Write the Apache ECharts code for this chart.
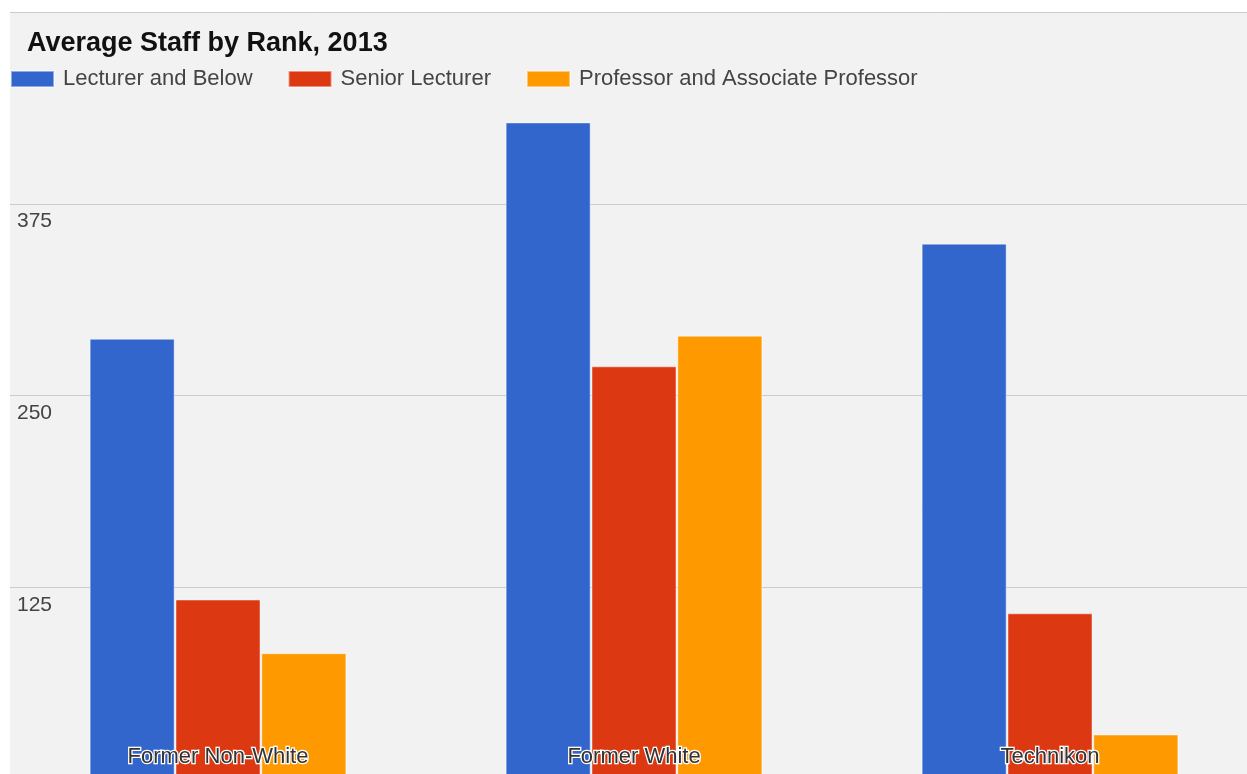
<!DOCTYPE html>
<html>
<head>
<meta charset="utf-8">
<script src="https://cdn.jsdelivr.net/npm/echarts@6/dist/echarts.min.js"></script>
<style>
html,body{margin:0;padding:0;background:#fff;}
#chart{width:1247px;height:774px;}
</style>
</head>
<body>
<div id="chart"></div>
<script>
var categories = ['Former Non-White', 'Former White', 'Technikon'];
var seriesNames = ['Lecturer and Below', 'Senior Lecturer', 'Professor and Associate Professor'];
var lecturerBelow = [287, 428, 349];
var seniorLecturer = [117, 269, 108];
var professorAssoc = [82, 289, 29];
var yTicks = [0, 125, 250, 375, 500];
var colors = ['#3366cc', '#dc3912', '#ff9900'];

var chart = echarts.init(document.getElementById('chart'));
var data = [lecturerBelow, seniorLecturer, professorAssoc];
var font = '"Liberation Sans", Arial, sans-serif';

chart.setOption({
  animation: false,
  backgroundColor: '#ffffff',
  title: {
    text: 'Average Staff by Rank, 2013',
    left: 27, top: 30, padding: 0,
    textStyle: { fontFamily: font, fontSize: 27, fontWeight: 'bold', color: '#111' }
  },
  legend: {
    left: 10, top: 68, padding: 0,
    itemWidth: 43, itemHeight: 16, itemGap: 35,
    icon: 'rect',
    textStyle: { fontFamily: font, fontSize: 22, color: '#444', padding: [0, 0, 0, 4] },
    data: seriesNames
  },
  grid: {
    left: 10, width: 1248, top: 12, height: 767,
    outerBoundsMode: 'none',
    show: true, backgroundColor: '#f2f2f2', borderWidth: 0,
    containLabel: false
  },
  xAxis: {
    type: 'category',
    data: categories,
    z: 10,
    axisLine: { show: false },
    axisTick: { show: false },
    axisLabel: {
      inside: true, margin: 11,
      fontFamily: font, fontSize: 22, color: '#333',
      textBorderColor: '#ffffff', textBorderWidth: 2.5
    }
  },
  yAxis: {
    type: 'value',
    min: yTicks[0], max: yTicks[yTicks.length - 1], interval: 125,
    axisLine: { show: false },
    axisTick: { show: false },
    splitLine: { lineStyle: { color: '#cccccc', width: 1 } },
    axisLabel: {
      inside: true, margin: 7,
      verticalAlign: 'top', padding: [7, 0, 0, 0],
      fontFamily: font, fontSize: 21, color: '#444',
      formatter: function (v) { return (v === 0 || v === 500) ? '' : String(v); }
    }
  },
  series: seriesNames.map(function (name, i) {
    return {
      name: name,
      type: 'bar',
      data: data[i],
      barWidth: 85,
      barGap: '1%',
      itemStyle: { color: colors[i], borderColor: 'rgba(255,255,255,0.45)', borderWidth: 1 }
    };
  })
});
</script>
</body>
</html>
